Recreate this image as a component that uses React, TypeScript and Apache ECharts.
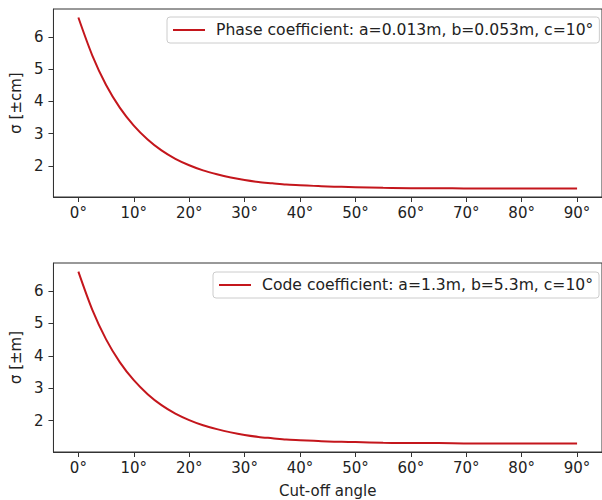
import React, { useEffect, useRef } from "react";
import * as echarts from "echarts";

const angles = [0, 2.5, 5, 7.5, 10, 12.5, 15, 17.5, 20, 22.5, 25, 27.5, 30, 32.5, 35, 37.5, 40, 42.5, 45, 47.5, 50, 55, 60, 65, 70, 75, 80, 85, 90];
const phaseSigma = [6.6, 5.43, 4.51, 3.8, 3.25, 2.82, 2.48, 2.22, 2.02, 1.86, 1.74, 1.64, 1.56, 1.5, 1.46, 1.42, 1.4, 1.38, 1.36, 1.35, 1.34, 1.32, 1.31, 1.31, 1.3, 1.3, 1.3, 1.3, 1.3];
const codeSigma = [6.6, 5.43, 4.51, 3.8, 3.25, 2.82, 2.48, 2.22, 2.02, 1.86, 1.74, 1.64, 1.56, 1.5, 1.46, 1.42, 1.4, 1.38, 1.36, 1.35, 1.34, 1.32, 1.31, 1.31, 1.3, 1.3, 1.3, 1.3, 1.3];
const xTicks = [0, 10, 20, 30, 40, 50, 60, 70, 80, 90];
const yTicks = [2, 3, 4, 5, 6];
const phaseName = "Phase coefficient: a=0.013m, b=0.053m, c=10°";
const codeName = "Code coefficient: a=1.3m, b=5.3m, c=10°";

const FONT = "DejaVu Sans";
const TXT = "#222";
const AX = "#333";
const RED = "#c4161c";

export default function App() {
  const ref = useRef<HTMLDivElement>(null);
  useEffect(() => {
    const chart = echarts.init(ref.current!, null, { renderer: "svg" });
    const xAxisBase = (gi: number, name: string) => ({
      type: "value",
      gridIndex: gi,
      min: -4.5,
      max: 94.5,
      name,
      nameLocation: "middle",
      nameGap: 31,
      nameTextStyle: { fontFamily: FONT, fontSize: 15, color: TXT },
      splitLine: { show: false },
      axisLine: { show: true, onZero: false, lineStyle: { color: AX, width: 1 } },
      axisTick: { show: true, length: 5, lineStyle: { color: AX }, customValues: xTicks },
      axisLabel: {
        fontFamily: FONT,
        fontSize: 15,
        color: TXT,
        margin: 8,
        customValues: xTicks,
        formatter: (v: number) => `${v}°`,
      },
    });
    const yAxisBase = (gi: number, name: string) => ({
      type: "value",
      gridIndex: gi,
      min: 1.035,
      max: 6.865,
      name,
      nameLocation: "middle",
      nameRotate: 90,
      nameGap: 28,
      nameTextStyle: { fontFamily: FONT, fontSize: 15, color: TXT },
      splitLine: { show: false },
      axisLine: { show: true, onZero: false, lineStyle: { color: AX, width: 1 } },
      axisTick: { show: true, length: 5, lineStyle: { color: AX }, customValues: yTicks },
      axisLabel: {
        fontFamily: FONT,
        fontSize: 15,
        color: TXT,
        margin: 10,
        customValues: yTicks,
      },
    });
    const legendBase = (name: string, left: number, top: number) => ({
      data: [name],
      left,
      top,
      orient: "horizontal",
      icon: "rect",
      itemWidth: 32,
      itemHeight: 2,
      padding: [5, 6, 5, 6],
      borderColor: "#ccc",
      borderWidth: 1,
      borderRadius: 3,
      backgroundColor: "#fff",
      textStyle: { fontFamily: FONT, fontSize: 15.6, color: TXT, padding: [0, 0, 0, 6] },
    });
    const seriesBase = (name: string, idx: number, vals: number[]) => ({
      name,
      type: "line",
      xAxisIndex: idx,
      yAxisIndex: idx,
      data: angles.map((a, i) => [a, vals[i]]),
      smooth: 0.3,
      showSymbol: false,
      symbol: "none",
      lineStyle: { color: RED, width: 2 },
      itemStyle: { color: RED },
    });
    chart.setOption({
      animation: false,
      backgroundColor: "#fff",
      grid: [
        { left: 52, top: 9, width: 556, height: 188, show: true, borderColor: AX, borderWidth: 1, backgroundColor: "transparent" },
        { left: 52, top: 263, width: 556, height: 189, show: true, borderColor: AX, borderWidth: 1, backgroundColor: "transparent" },
      ],
      xAxis: [xAxisBase(0, ""), xAxisBase(1, "Cut-off angle")],
      yAxis: [yAxisBase(0, "σ [±cm]"), yAxisBase(1, "σ [±m]")],
      legend: [legendBase(phaseName, 167, 17), legendBase(codeName, 213, 272)],
      series: [seriesBase(phaseName, 0, phaseSigma), seriesBase(codeName, 1, codeSigma)],
    });
    return () => chart.dispose();
  }, []);
  return <div ref={ref} style={{ position: "fixed", left: 0, top: 0, width: 602, height: 500 }} />;
}
